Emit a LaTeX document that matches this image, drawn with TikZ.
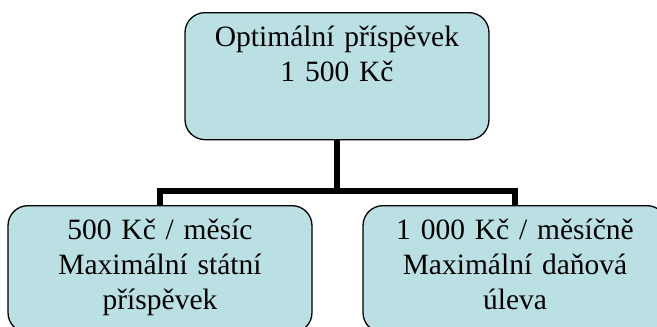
\documentclass[tikz,border=0pt]{standalone}
\usepackage{fontspec}
\setmainfont{Liberation Serif}
\usetikzlibrary{backgrounds}
\definecolor{boxfill}{RGB}{187,224,227}
\begin{document}
\begin{tikzpicture}[x=1pt,y=1pt,
  orgbox/.style={draw=black, line width=1.3pt, fill=boxfill,
    rounded corners=20pt, inner sep=0pt, minimum width=304pt,
    text width=304pt, align=center, text height=34pt, text depth=93pt,
    font=\fontsize{29.5}{35}\selectfont},
  link/.style={draw=black, line width=5.5pt}]
  \useasboundingbox (0,0) rectangle (657,-327);
  \clip (0,0) rectangle (657,-327);

  % boxes (anchored at their top edge)
  \node[orgbox, anchor=north] (top)   at (337,-12)  {Optimální příspěvek\\1 500 Kč};
  \node[orgbox, anchor=north] (left)  at (160,-205) {500 Kč / měsíc\\Maximální státní\\příspěvek};
  \node[orgbox, anchor=north] (right) at (515,-205) {1 000 Kč / měsíčně\\Maximální daňová\\úleva};

  % connectors, behind the boxes
  \coordinate (hub) at (337,-191);
  \begin{scope}[on background layer]
    \path[link] (top.south) -- (hub);
    \path[link] (hub) -| (left.north);
    \path[link] (hub) -| (right.north);
  \end{scope}
\end{tikzpicture}
\end{document}
